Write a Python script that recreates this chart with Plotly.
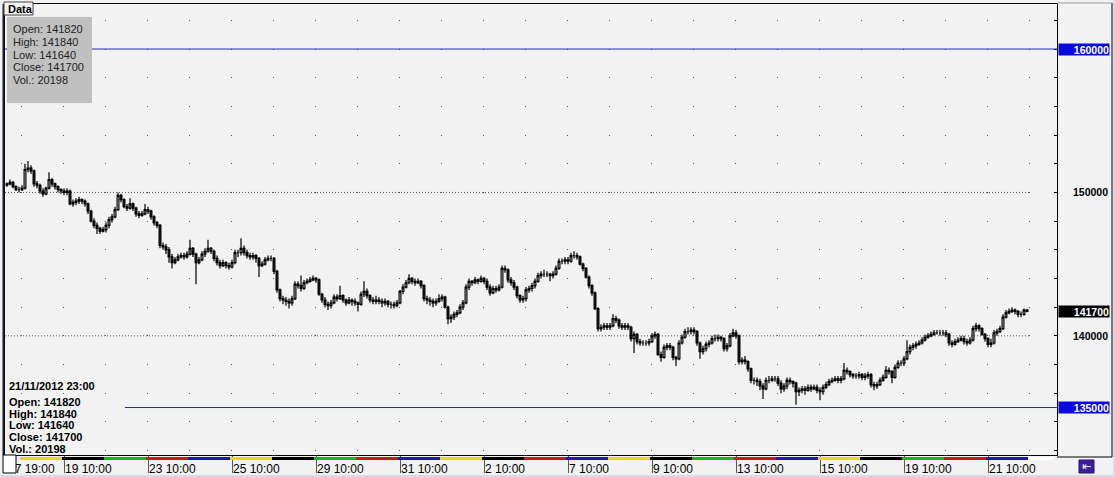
import plotly.graph_objects as go

# ---------------- data (hourly candles, 17 Oct 2012 19:00 .. 21 Nov 2012 23:00) ----------------
closes = [
    150600, 150700, 150400, 150200, 150200,
    150300, 151600, 151700, 151500, 150600, 150500, 150100, 149900, 150300, 150900, 150600, 150400, 150200, 150100,
    150000, 150100, 149200, 149300, 149400, 149500, 149400, 149200, 148700, 148000, 147700, 147500, 147300, 147400,
    147700, 148100, 148300, 148800, 149800, 149500, 149000, 148900, 149200, 148900, 148500, 148400, 148500, 148800,
    148700, 148300, 147900, 147700, 146300, 146200, 146000, 145500, 145100, 145300, 145500, 145600, 145500, 145700,
    146100, 145700, 145100, 145300, 145700, 145900, 146100, 145900, 145400, 145100, 144900, 145100, 144900, 144800,
    145100, 145800, 145800, 146100, 145800, 145600, 145500, 145600, 145400, 144900, 145000, 145300, 145400, 145400,
    144500, 143200, 142600, 142500, 142400, 142300, 142600, 143600, 143500, 143300, 143700, 143800, 143900, 144000,
    143900, 142900, 142500, 142200, 142100, 142300, 142700, 142600, 142800, 142500, 142300, 142500, 142400, 142300,
    142200, 142900, 143100, 142800, 142500, 142400, 142500, 142400, 142300, 142400, 142200, 142200, 142100, 142300,
    143100, 143400, 143700, 144000, 143800, 143700, 143800, 143500, 142600, 142500, 142400, 142300, 142400, 142600,
    142700, 142000, 141200, 141300, 141500, 141600, 142000, 142300, 143400, 143800, 143700, 143900, 143800, 144000,
    143800, 143400, 143000, 143300, 143200, 143400, 144700, 144600, 143900, 143700, 143400, 142800, 142500, 142600,
    143200, 143300, 143500, 143800, 144200, 144300, 144300, 144300, 144200, 144300, 144700, 145200, 145200, 145300,
    145200, 145600, 145600, 145500, 145000, 144700, 144100, 143500, 143000, 141900, 140500, 140600, 140700, 140600,
    140700, 141200, 141100, 140700, 140600, 140700, 140600, 139800, 140100, 139600, 139500, 139500, 139500, 139600,
    140000, 140100, 138700, 138500, 139200, 139300, 139200, 138500, 138400, 139500, 139900, 140300, 140300, 140400,
    140300, 139500, 138900, 139100, 139400, 139500, 139800, 139800, 139900, 139800, 139100, 139300, 140000, 140200,
    140000, 138200, 138300, 138200, 137700, 136900, 136900, 136800, 136500, 136300, 136900, 136900, 137000, 137000,
    136700, 136300, 136500, 136900, 136800, 136700, 136100, 136200, 136300, 136200, 136400, 136300, 136400, 136200,
    136100, 136400, 136600, 136800, 136900, 137000, 136900, 137000, 137600, 137500, 137300, 137200, 137200, 137300,
    137100, 137200, 137300, 136600, 136500, 136600, 136900, 137100, 137600, 137500, 137100, 137800, 138100, 138100,
    138400, 138900, 139200, 139300, 139400, 139500, 139700, 139900, 140000, 140100, 140200, 140200, 140200, 140200,
    140100, 139500, 139400, 139600, 139700, 139800, 139600, 139500, 139700, 140500, 140700, 140500, 140100, 139800,
    139400, 139500, 140200, 140300, 140500, 141300, 141600, 141700, 141800, 141700, 141500, 141500, 141800, 141700,
]
opens = [
    150500, 150600, 150700, 150400, 150200,
    150200, 150300, 151600, 151700, 151500, 150600, 150500, 150100, 149900, 150300, 150900, 150600, 150400, 150200,
    150100, 150000, 150100, 149200, 149300, 149400, 149500, 149400, 149200, 148700, 148000, 147700, 147500, 147300,
    147400, 147700, 148100, 148300, 148800, 149800, 149500, 149000, 148900, 149200, 148900, 148500, 148400, 148500,
    148800, 148700, 148300, 147900, 147700, 146300, 146200, 146000, 145500, 145100, 145300, 145500, 145600, 145500,
    145700, 146100, 145700, 145100, 145300, 145700, 145900, 146100, 145900, 145400, 145100, 144900, 145100, 144900,
    144800, 145100, 145800, 145800, 146100, 145800, 145600, 145500, 145600, 145400, 144900, 145000, 145300, 145400,
    145400, 144500, 143200, 142600, 142500, 142400, 142300, 142600, 143600, 143500, 143300, 143700, 143800, 143900,
    144000, 143900, 142900, 142500, 142200, 142100, 142300, 142700, 142600, 142800, 142500, 142300, 142500, 142400,
    142300, 142200, 142900, 143100, 142800, 142500, 142400, 142500, 142400, 142300, 142400, 142200, 142200, 142100,
    142300, 143100, 143400, 143700, 144000, 143800, 143700, 143800, 143500, 142600, 142500, 142400, 142300, 142400,
    142600, 142700, 142000, 141200, 141300, 141500, 141600, 142000, 142300, 143400, 143800, 143700, 143900, 143800,
    144000, 143800, 143400, 143000, 143300, 143200, 143400, 144700, 144600, 143900, 143700, 143400, 142800, 142500,
    142600, 143200, 143300, 143500, 143800, 144200, 144300, 144300, 144300, 144200, 144300, 144700, 145200, 145200,
    145300, 145200, 145600, 145600, 145500, 145000, 144700, 144100, 143500, 143000, 141900, 140500, 140600, 140700,
    140600, 140700, 141200, 141100, 140700, 140600, 140700, 140600, 139800, 140100, 139600, 139500, 139500, 139500,
    139600, 140000, 140100, 138700, 138500, 139200, 139300, 139200, 138500, 138400, 139500, 139900, 140300, 140300,
    140400, 140300, 139500, 138900, 139100, 139400, 139500, 139800, 139800, 139900, 139800, 139100, 139300, 140000,
    140200, 140000, 138200, 138300, 138200, 137700, 136900, 136900, 136800, 136500, 136300, 136900, 136900, 137000,
    137000, 136700, 136300, 136500, 136900, 136800, 136700, 136100, 136200, 136300, 136200, 136400, 136300, 136400,
    136200, 136100, 136400, 136600, 136800, 136900, 137000, 136900, 137000, 137600, 137500, 137300, 137200, 137200,
    137300, 137100, 137200, 137300, 136600, 136500, 136600, 136900, 137100, 137600, 137500, 137100, 137800, 138100,
    138100, 138400, 138900, 139200, 139300, 139400, 139500, 139700, 139900, 140000, 140100, 140200, 140200, 140200,
    140200, 140100, 139500, 139400, 139600, 139700, 139800, 139600, 139500, 139700, 140500, 140700, 140500, 140100,
    139800, 139400, 139500, 140200, 140300, 140500, 141300, 141600, 141700, 141800, 141700, 141500, 141500, 141820,
]
highs = [
    150700, 150900, 150800, 150500, 150400,
    150500, 152000, 152200, 151900, 151600, 150800, 150600, 150300, 150400, 151400, 151000, 150700, 150500, 150300,
    150300, 150300, 150200, 149500, 149600, 149700, 149600, 149500, 149300, 148800, 148200, 147900, 147600, 147600,
    147900, 148300, 148500, 149000, 150000, 149900, 149600, 149200, 149600, 149300, 149000, 148700, 148700, 149200,
    149000, 148800, 148400, 148000, 147800, 146500, 146400, 146200, 145700, 145500, 145700, 145800, 145800, 145900,
    146700, 146200, 145800, 145500, 145900, 146100, 146700, 146200, 146000, 145600, 145300, 145300, 145200, 145100,
    145300, 146000, 146000, 146800, 146300, 146000, 145800, 145800, 145700, 145500, 145200, 145500, 145600, 145600,
    145500, 144600, 143300, 142800, 142700, 142600, 142800, 143800, 143800, 144200, 143900, 144000, 144100, 144200,
    144100, 144000, 143000, 142700, 142400, 142500, 142900, 142900, 143500, 142900, 142600, 142700, 142600, 142600,
    142400, 143100, 143800, 143300, 142900, 142700, 142800, 142700, 142600, 142600, 142500, 142400, 142400, 142500,
    143200, 143600, 143900, 144300, 144100, 144000, 144000, 143900, 143600, 142800, 142700, 142600, 142600, 142900,
    142900, 142800, 142100, 141500, 141700, 141800, 142200, 142500, 143600, 144000, 143900, 144100, 144000, 144200,
    144100, 144000, 143600, 143500, 143500, 143600, 144900, 144900, 144700, 144100, 143900, 143500, 142900, 142800,
    143400, 143500, 143700, 144000, 144400, 144500, 144600, 144500, 144400, 144500, 144900, 145400, 145400, 145500,
    145500, 145800, 145900, 145800, 145600, 145100, 144800, 144200, 143600, 143100, 142000, 140800, 140900, 140900,
    140900, 141500, 141400, 141200, 140900, 140900, 140900, 140700, 140300, 140200, 139800, 139700, 139700, 139800,
    140200, 140300, 140200, 138900, 139400, 139500, 139500, 139300, 138600, 139700, 140100, 140500, 140600, 140600,
    140600, 140400, 139600, 139300, 139600, 139700, 140000, 140100, 140100, 140000, 139900, 139500, 140200, 140500,
    140400, 140100, 138500, 138600, 138300, 137800, 137100, 137100, 137000, 136700, 137100, 137200, 137200, 137200,
    137200, 136900, 136700, 137100, 137100, 136900, 136800, 136400, 136500, 136500, 136600, 136600, 136600, 136600,
    136400, 136600, 136800, 137000, 137100, 137200, 137200, 137200, 138100, 137800, 137600, 137400, 137400, 137500,
    137400, 137400, 137500, 137400, 136800, 136800, 137100, 137300, 137900, 137800, 137600, 138000, 138300, 138300,
    138600, 139700, 139400, 139500, 139600, 139700, 139900, 140100, 140200, 140300, 140400, 140400, 140400, 140400,
    140400, 140200, 139700, 139800, 139900, 140000, 140000, 139800, 139900, 140700, 140900, 140800, 140600, 140200,
    139900, 139800, 140400, 140500, 140700, 141500, 141800, 141900, 142000, 141900, 141800, 141700, 141900, 141840,
]
lows = [
    150400, 150500, 150300, 150100, 150000,
    150100, 150200, 151400, 151300, 150400, 150300, 149900, 149700, 149800, 150200, 150400, 150200, 150000, 149900,
    149800, 149800, 149100, 149000, 149100, 149200, 149200, 149000, 148500, 147900, 147500, 147100, 147100, 147200,
    147200, 147500, 147900, 148200, 148700, 149300, 148900, 148700, 148800, 148700, 148300, 148200, 148300, 148400,
    148500, 148100, 147700, 147500, 146100, 146000, 145700, 145100, 144700, 145000, 145200, 145400, 145300, 145400,
    145600, 145500, 143600, 145000, 145200, 145500, 145800, 145700, 145200, 144900, 144700, 144800, 144700, 144600,
    144700, 145000, 145500, 145600, 145600, 145400, 145300, 145300, 145100, 144100, 144800, 144900, 145200, 145200,
    144300, 143000, 142400, 142200, 142100, 141900, 142100, 142500, 143300, 143100, 143200, 143600, 143700, 143800,
    143700, 142800, 142300, 142000, 141800, 141900, 142200, 142400, 142500, 142300, 142100, 142200, 142100, 142100,
    141700, 142100, 142700, 142600, 142300, 142200, 142200, 142200, 142000, 142100, 142000, 141900, 141900, 142000,
    142200, 142900, 143300, 143600, 143600, 143500, 143600, 143300, 142400, 142200, 142100, 142000, 142100, 142300,
    142400, 141900, 140800, 140900, 141100, 141300, 141500, 141800, 142200, 143200, 143500, 143600, 143600, 143700,
    143600, 143200, 142800, 142900, 143000, 143100, 143300, 144400, 143700, 143500, 143200, 142600, 142300, 142300,
    142400, 143000, 143100, 143300, 143700, 144000, 144100, 144100, 143800, 144000, 144200, 144600, 145000, 145000,
    145000, 145100, 145400, 145300, 144900, 144500, 144000, 143300, 142800, 141800, 140300, 140300, 140400, 140400,
    140400, 140600, 140900, 140500, 140400, 140400, 140400, 139600, 138800, 139400, 139300, 139300, 139300, 139300,
    139500, 139800, 138600, 138200, 138400, 139000, 139000, 138300, 137900, 138300, 139400, 139800, 140100, 140100,
    140100, 139300, 138400, 138700, 138900, 139200, 139400, 139600, 139600, 139600, 138900, 138900, 139200, 139900,
    139800, 138000, 138000, 138000, 137500, 136700, 136600, 136500, 136200, 135600, 136200, 136700, 136800, 136800,
    136500, 136000, 136100, 136300, 136600, 136400, 135200, 135800, 136000, 135900, 136100, 136100, 136200, 136000,
    135500, 135900, 136300, 136500, 136700, 136800, 136700, 136700, 136900, 137300, 137100, 137000, 137000, 137000,
    136900, 136900, 137000, 136400, 136200, 136300, 136500, 136800, 137000, 137300, 136700, 137000, 137700, 137900,
    137900, 138300, 138700, 139000, 139100, 139300, 139400, 139600, 139800, 139900, 140000, 140100, 140000, 140000,
    139900, 139300, 139200, 139300, 139500, 139600, 139400, 139300, 139400, 139600, 140300, 140300, 140000, 139600,
    139200, 139200, 139400, 140000, 140200, 140400, 141200, 141500, 141600, 141500, 141300, 141300, 141400, 141640,
]
assert len(closes) == len(opens) == len(highs) == len(lows) == 341

candle_index = list(range(len(closes)))

x_tick_index = [0, 19, 47, 75, 103, 131, 159, 187, 215, 243, 271, 299, 327]
x_tick_text = ["17 19:00", "19 10:00", "23 10:00", "25 10:00", "29 10:00", "31 10:00",
               "2 10:00", "7 10:00", "9 10:00", "13 10:00", "15 10:00", "19 10:00", "21 10:00"]

day_weekdays = ["Thu", "Fri", "Mon", "Tue", "Wed", "Thu", "Fri", "Mon", "Tue", "Wed", "Thu", "Fri",
                "Tue", "Wed", "Thu", "Fri", "Mon", "Tue", "Wed", "Thu", "Fri", "Mon", "Tue", "Wed"]
weekday_colors = {"Mon": "#1db31d", "Tue": "#c81818", "Wed": "#1818b8", "Thu": "#e4da10", "Fri": "#000000"}

y_grid_ticks = list(range(132000, 164000, 2000))
level_upper = 160000
level_lower = 135000
dotted_levels = [150000, 140000]
axis_labels = [150000, 140000]
last_bar = {"date": "21/11/2012 23:00", "open": 141820, "high": 141840,
            "low": 141640, "close": 141700, "vol": 20198}

# ---------------- layout helpers (pixel -> paper) ----------------
W, H = 1115, 477
L, R, T, B = 5, 1057, 4, 455


def px(x):
    return (x - L) / (R - L)


def py(y):
    return (B - y) / (B - T)


fig = go.Figure()
fig.add_trace(go.Candlestick(
    x=candle_index, open=opens, high=highs, low=lows, close=closes,
    increasing=dict(line=dict(color="#000000", width=1.2), fillcolor="#ffffff"),
    decreasing=dict(line=dict(color="#000000", width=1.2), fillcolor="#1a1a1a"),
    whiskerwidth=0, showlegend=False, hoverinfo="skip",
))

shapes = []
annotations = []

# horizontal levels
level_color = "#2626a8"
shapes.append(dict(type="line", xref="paper", yref="y", x0=0, x1=1, y0=level_upper, y1=level_upper,
                   line=dict(color=level_color, width=1), layer="above"))
shapes.append(dict(type="line", xref="paper", yref="y", x0=px(125), x1=1, y0=level_lower, y1=level_lower,
                   line=dict(color=level_color, width=1), layer="above"))
for lv in dotted_levels:
    shapes.append(dict(type="line", xref="x", yref="y", x0=-0.667, x1=340.7, y0=lv, y1=lv,
                       line=dict(color="#555555", width=1, dash="1px,2px"), layer="below"))

# weekday colour strip under the plot
n_first = 5
for k, wd in enumerate(day_weekdays):
    s = n_first + 14 * k
    shapes.append(dict(type="rect", xref="x", yref="paper", x0=s - 0.67, x1=s + 13.33,
                       y0=py(460), y1=py(457), fillcolor=weekday_colors[wd], line=dict(width=0), layer="above"))
end_day = n_first + 14 * len(day_weekdays) - 0.67
shapes.append(dict(type="rect", xref="x", yref="paper", x0=end_day, x1=349,
                   y0=py(460), y1=py(457), fillcolor="#ffffff", line=dict(width=0), layer="above"))

# outer frame / right-axis box
shapes.append(dict(type="line", xref="paper", yref="paper", x0=px(1112), x1=px(1112), y0=py(457), y1=py(3),
                   line=dict(color="#000000", width=1)))
shapes.append(dict(type="line", xref="paper", yref="paper", x0=px(1057), x1=px(1112), y0=py(3), y1=py(3),
                   line=dict(color="#9a9a9a", width=1)))
shapes.append(dict(type="line", xref="paper", yref="paper", x0=px(1057), x1=px(1112), y0=py(457), y1=py(457),
                   line=dict(color="#000000", width=1)))
shapes.append(dict(type="line", xref="paper", yref="paper", x0=px(3.5), x1=px(3.5), y0=py(455), y1=py(4),
                   line=dict(color="#1a1a2a", width=2)))
shapes.append(dict(type="rect", xref="paper", yref="paper", x0=px(1113), x1=px(1116), y0=py(478), y1=py(-1),
                   fillcolor="#d3dde9", line=dict(width=0)))
shapes.append(dict(type="rect", xref="paper", yref="paper", x0=px(-1), x1=px(1116), y0=py(478), y1=py(475),
                   fillcolor="#d3dde9", line=dict(width=0)))

# info box top-left
shapes.append(dict(type="rect", xref="paper", yref="paper", x0=px(7), x1=px(92), y0=py(103), y1=py(17),
                   fillcolor="#c0c0c0", line=dict(width=0), layer="above"))
info_lines = [f"Open: {last_bar['open']}", f"High: {last_bar['high']}", f"Low: {last_bar['low']}",
              f"Close: {last_bar['close']}", f"Vol.: {last_bar['vol']}"]
for j, t in enumerate(info_lines):
    annotations.append(dict(text=t, xref="paper", yref="paper", x=px(11), y=py(29 + 12.8 * j),
                            xanchor="left", yanchor="middle", showarrow=False,
                            font=dict(family="Liberation Sans", size=11, color="#222222")))

# "Data" tab
shapes.append(dict(type="rect", xref="paper", yref="paper", x0=px(4), x1=px(33), y0=py(15), y1=py(2),
                   fillcolor="#f4f4f4", line=dict(color="#404040", width=1), layer="above"))
annotations.append(dict(text="<b>Data</b>", xref="paper", yref="paper", x=px(6), y=py(9),
                        xanchor="left", yanchor="middle", showarrow=False,
                        font=dict(family="Liberation Sans", size=11, color="#000000")))

# bottom-left bold block
bl_lines = [last_bar["date"], f"Open: {last_bar['open']}", f"High: {last_bar['high']}",
            f"Low: {last_bar['low']}", f"Close: {last_bar['close']}", f"Vol.: {last_bar['vol']}"]
bl_y = [386, 402, 413.5, 425, 437, 449]
for t, yy in zip(bl_lines, bl_y):
    annotations.append(dict(text=f"<b>{t}</b>", xref="paper", yref="paper", x=px(7), y=py(yy),
                            xanchor="left", yanchor="middle", showarrow=False,
                            font=dict(family="Liberation Sans", size=11, color="#000000")))

# right axis labels
for v in axis_labels:
    annotations.append(dict(text=f"<b>{v}</b>", xref="paper", yref="y", x=px(1110), y=v,
                            xanchor="right", yanchor="middle", showarrow=False,
                            font=dict(family="Liberation Sans", size=10.5, color="#000000")))
for v, bg in [(level_upper, "#0a0ae0"), (last_bar["close"], "#000000"), (level_lower, "#0a0ae0")]:
    annotations.append(dict(text=f"<b>{v}</b>", xref="paper", yref="y", x=px(1058), y=v,
                            xanchor="left", yanchor="middle", showarrow=False, width=50, height=11,
                            align="right", bgcolor=bg, borderpad=0,
                            font=dict(family="Liberation Sans", size=10.5, color="#ffffff")))

# bottom-left scroll box and bottom-right icon
shapes.append(dict(type="rect", xref="paper", yref="paper", x0=px(3), x1=px(16), y0=py(473), y1=py(455),
                   fillcolor="#ffffff", line=dict(color="#000000", width=1), layer="above"))
shapes.append(dict(type="rect", xref="paper", yref="paper", x0=px(1079), x1=px(1094), y0=py(473), y1=py(460),
                   fillcolor="#3c1e9c", line=dict(color="#2a1070", width=1), layer="above"))
annotations.append(dict(text="⇤", xref="paper", yref="paper", x=px(1086.5), y=py(466.5),
                        xanchor="center", yanchor="middle", showarrow=False,
                        font=dict(family="DejaVu Sans", size=11, color="#ffffff")))

fig.update_layout(
    width=W, height=H,
    margin=dict(l=L, r=W - R, t=T, b=H - B, pad=0, autoexpand=False),
    paper_bgcolor="#f2f2f2", plot_bgcolor="#f2f2f2",
    showlegend=False, boxgap=0.15,
    shapes=shapes, annotations=annotations,
    xaxis=dict(
        range=[-0.667, 350], rangeslider=dict(visible=False), automargin=False,
        showgrid=False, zeroline=False,
        showline=True, linecolor="#000000", linewidth=1, mirror=True,
        tickmode="array", tickvals=x_tick_index, ticktext=x_tick_text,
        ticks="outside", ticklen=17, tickcolor="#555555", tickwidth=1,
        ticklabelposition="outside right", ticklabelstandoff=3,
        tickfont=dict(family="Liberation Sans", size=12, color="#000000"),
    ),
    yaxis=dict(
        range=[131690, 163140], side="right", automargin=False,
        showgrid=True, gridcolor="#555555", gridwidth=1, griddash="0px,16px,1px,25px",
        zeroline=False,
        showline=True, linecolor="#000000", linewidth=1, mirror=True,
        tickmode="array", tickvals=y_grid_ticks, showticklabels=False,
        ticks="inside", ticklen=3, tickcolor="#000000",
    ),
)

fig.write_html("out.html", config={"displayModeBar": False},
               post_script="document.body.style.margin='0px';document.body.style.padding='0px';")
